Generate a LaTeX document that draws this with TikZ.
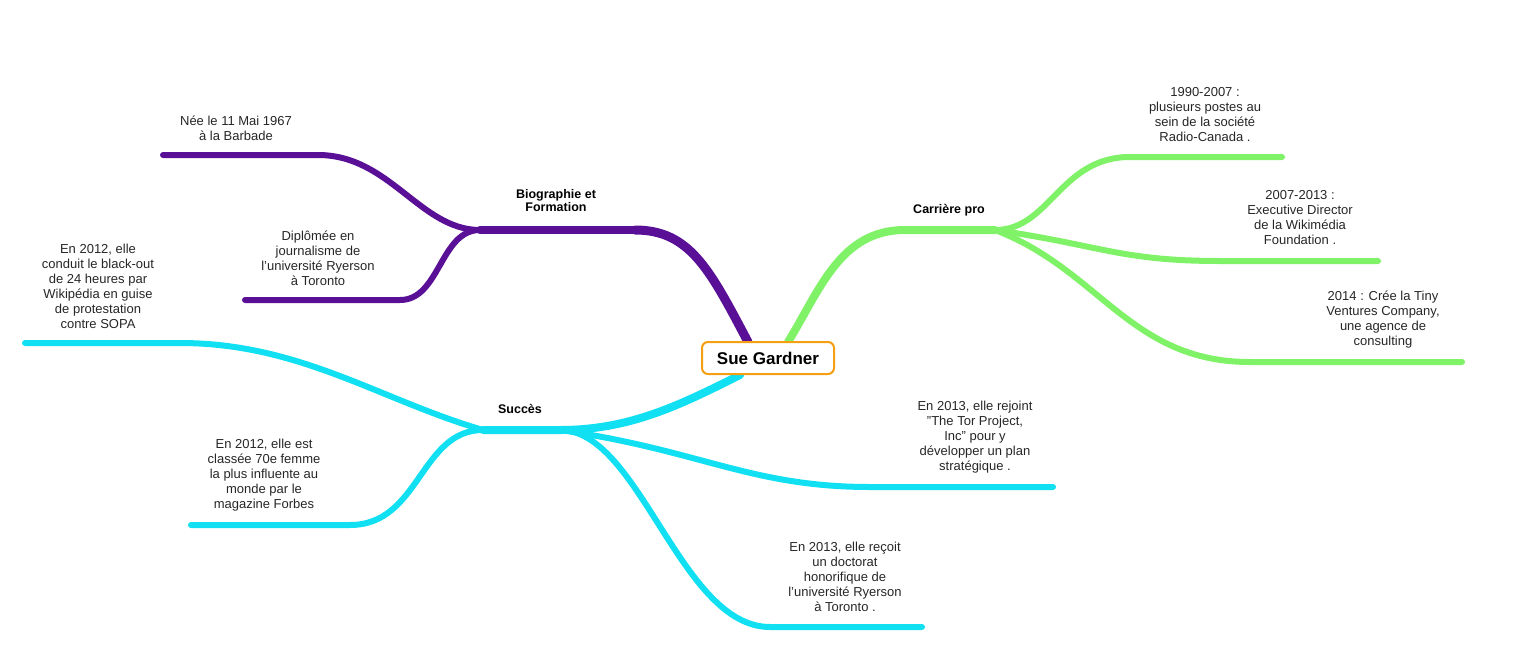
\documentclass[tikz,border=0pt]{standalone}
\usepackage{fontspec}
\setmainfont{Liberation Sans}
\begin{document}
\begin{tikzpicture}[x=1pt,y=-1pt,
  txt/.style={align=center,font=\fontsize{13}{15}\selectfont,text=black!85},
  lab/.style={align=center,font=\bfseries\fontsize{12.5}{13}\selectfont},
  pur/.style={draw={rgb,255:red,90;green,16;blue,150},line width=6pt,line cap=round},
  grn/.style={draw={rgb,255:red,128;green,242;blue,104},line width=6pt,line cap=round},
  cya/.style={draw={rgb,255:red,16;green,224;blue,242},line width=6pt,line cap=round}]
\useasboundingbox (0,0) rectangle (1536,656);
% hubs
\coordinate (cp) at (748,342); \coordinate (cg) at (788,342); \coordinate (cc) at (740,375);
\coordinate (bp) at (480,230); \coordinate (bp2) at (635,230);
\coordinate (bg) at (995,230); \coordinate (bg2) at (905,230);
\coordinate (bc) at (483,430); \coordinate (bc2) at (560,430);
% purple
\draw[pur,line width=9pt] (cp) .. controls (710,270) and (690,230) .. (bp2);
\draw[pur,line width=8pt] (bp2) -- (bp);
\coordinate (p1) at (318,155); \coordinate (p1e) at (163,155);
\coordinate (p2) at (400,300); \coordinate (p2e) at (245,300);
\draw[pur] (bp) .. controls (420,230) and (390,155) .. (p1) -- (p1e);
\draw[pur] (bp) .. controls (440,230) and (440,300) .. (p2) -- (p2e);
% green
\draw[grn,line width=8pt] (cg) .. controls (820,290) and (840,230) .. (bg2) -- (bg);
\coordinate (g1) at (1130,157); \coordinate (g1e) at (1282,157);
\coordinate (g2) at (1220,261); \coordinate (g2e) at (1378,261);
\coordinate (g3) at (1250,362); \coordinate (g3e) at (1462,362);
\draw[grn] (bg) .. controls (1050,230) and (1060,157) .. (g1) -- (g1e);
\draw[grn] (bg) .. controls (1100,245) and (1120,261) .. (g2) -- (g2e);
\draw[grn] (bg) .. controls (1100,270) and (1130,362) .. (g3) -- (g3e);
% cyan
\draw[cya,line width=8pt] (cc) .. controls (680,405) and (630,430) .. (bc2) -- (bc);
\coordinate (c1) at (180,343); \coordinate (c1e) at (25,343);
\coordinate (c2) at (350,525); \coordinate (c2e) at (191,525);
\coordinate (c3) at (870,487); \coordinate (c3e) at (1053,487);
\coordinate (c4) at (770,627); \coordinate (c4e) at (922,627);
\draw[cya] (bc) .. controls (380,400) and (300,343) .. (c1) -- (c1e);
\draw[cya] (bc) .. controls (420,430) and (420,525) .. (c2) -- (c2e);
\draw[cya] (bc2) .. controls (700,450) and (750,487) .. (c3) -- (c3e);
\draw[cya] (bc2) .. controls (640,430) and (680,627) .. (c4) -- (c4e);
% center
\node[draw={rgb,255:red,245;green,160;blue,20},line width=2pt,rounded corners=6pt,fill=white,
  minimum width=132pt,minimum height=32pt,font=\bfseries\fontsize{17}{19}\selectfont] (ctr) at (768,358) {Sue Gardner};
% labels
\node[lab] (lp) at (556,201) {Biographie et\\Formation};
\node[lab] (lg) at (949,210) {Carrière pro};
\node[lab] (lc) at (520,409) {Succès};
\node[txt] (t1) at (236,128) {Née le 11 Mai 1967\\à la Barbade};
\node[txt] (t2) at (318,258) {Diplômée en\\journalisme de\\l'université Ryerson\\à Toronto};
\node[txt] (t3) at (1205,115) {1990-2007 :\\plusieurs postes au\\sein de la société\\Radio-Canada .};
\node[txt] (t4) at (1300,218) {2007-2013 :\\Executive Director\\de la Wikimédia\\Foundation .};
\node[txt] (t5) at (1383,320) {2014 : Crée la Tiny\\Ventures Company,\\une agence de\\consulting};
\node[txt] (t6) at (98,286) {En 2012, elle\\conduit le black-out\\de 24 heures par\\Wikipédia en guise\\de protestation\\contre SOPA};
\node[txt] (t7) at (264,475) {En 2012, elle est\\classée 70e femme\\la plus influente au\\monde par le\\magazine Forbes};
\node[txt] (t8) at (975,437) {En 2013, elle rejoint\\"The Tor Project,\\Inc" pour y\\développer un plan\\stratégique .};
\node[txt] (t9) at (845,577) {En 2013, elle reçoit\\un doctorat\\honorifique de\\l'université Ryerson\\à Toronto .};
\end{tikzpicture}
\end{document}
